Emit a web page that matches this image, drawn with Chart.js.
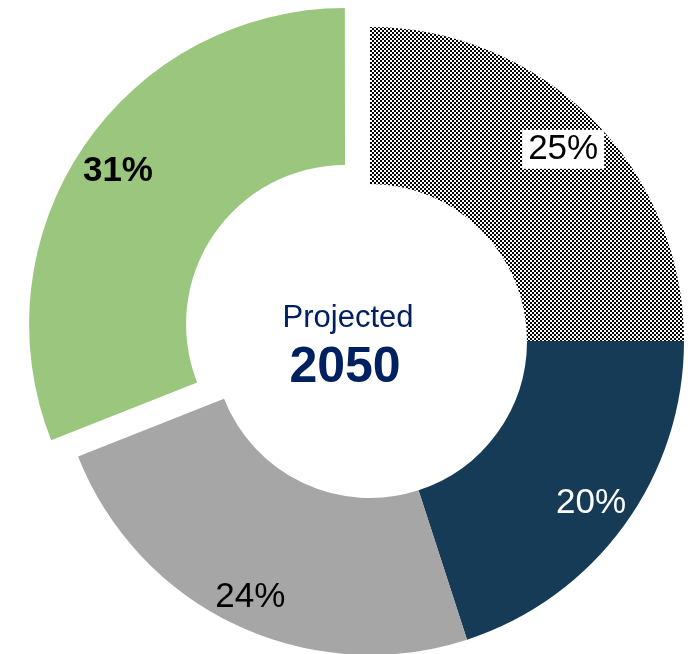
<!DOCTYPE html>
<html>
<head>
<meta charset="utf-8">
<script src="https://cdn.jsdelivr.net/npm/chart.js@4/dist/chart.umd.min.js"></script>
<style>
  html, body { margin: 0; padding: 0; background: #fff; }
  #wrap { width: 690px; height: 654px; position: relative; }
</style>
</head>
<body>
<div id="wrap"><canvas id="chart"></canvas></div>
<script>
'use strict';

// data
const sliceNames = ['Slice A', 'Slice B', 'Slice C', 'Slice D'];
const shares = [25, 20, 24, 31];
const shareLabels = ['25%', '20%', '24%', '31%'];
const sliceOffsets = [0, 0, 0, 120];

// 2px checkerboard for the first slice
function checkerPattern () {
    let c = document.createElement('canvas');
    c.width = 4;
    c.height = 4;
    let g = c.getContext('2d');
    g.fillStyle = '#fff';
    g.fillRect(0, 0, 4, 4);
    g.fillStyle = '#000';
    g.fillRect(0, 0, 2, 2);
    g.fillRect(2, 2, 2, 2);
    return g.createPattern(c, 'repeat');
}

// label look per slice (rad = share of outer radius)
const labelStyles = [
    { color: '#000', weight: 'normal', box: true, rad: 0.87 },
    { color: '#fff', weight: 'normal', box: false, rad: 0.87 },
    { color: '#000', weight: 'normal', box: false, rad: 0.895 },
    { color: '#000', weight: 'bold', box: false, rad: 0.875 },
];

const sliceLabels = {
    id: 'sliceLabels',
    afterDatasetsDraw (chart) {
        let ctx = chart.ctx;
        let meta = chart.getDatasetMeta(0);
        ctx.save();
        ctx.textAlign = 'center';
        ctx.textBaseline = 'middle';
        meta.data.forEach(function (arc, i) {
            let p = arc.getProps(['x', 'y', 'startAngle', 'endAngle', 'outerRadius'], true);
            let st = labelStyles[i];
            let mid = (p.startAngle + p.endAngle) / 2;
            let r = p.outerRadius * st.rad + sliceOffsets[i] / 4;
            let x = p.x + Math.cos(mid) * r;
            let y = p.y + Math.sin(mid) * r + 2;
            ctx.font = st.weight + ' 35px "Liberation Sans", Arial, sans-serif';
            if (st.box) {
                let w = ctx.measureText(shareLabels[i]).width;
                ctx.fillStyle = '#fff';
                ctx.fillRect(x - w / 2 - 6, y - 20, w + 12, 39);
            }
            ctx.fillStyle = st.color;
            ctx.fillText(shareLabels[i], x, y);
        });

        // centre text box
        let cx = meta.data[0].x - 24;
        let cy = meta.data[0].y;
        ctx.fillStyle = '#002060';
        ctx.textBaseline = 'alphabetic';
        ctx.font = '31px "Liberation Sans", Arial, sans-serif';
        ctx.fillText('Projected', cx + 2, cy - 14);
        ctx.font = 'bold 50px "Liberation Sans", Arial, sans-serif';
        ctx.fillText('2050', cx - 1, cy + 41);
        ctx.restore();
    }
};

new Chart(document.getElementById('chart'), {
    type: 'doughnut',
    data: {
        labels: sliceNames,
        datasets: [{
            data: shares,
            backgroundColor: [checkerPattern(), '#163B57', '#A6A6A6', '#9BC67D'],
            borderWidth: 0,
            offset: sliceOffsets,
        }],
    },
    options: {
        responsive: true,
        maintainAspectRatio: false,
        animation: false,
        cutout: '50%',
        radius: 314,
        layout: { padding: { left: 50, top: 28, right: 0, bottom: 0 } },
        plugins: {
            legend: { display: false },
            tooltip: { enabled: false },
        },
    },
    plugins: [sliceLabels],
});
</script>
</body>
</html>
